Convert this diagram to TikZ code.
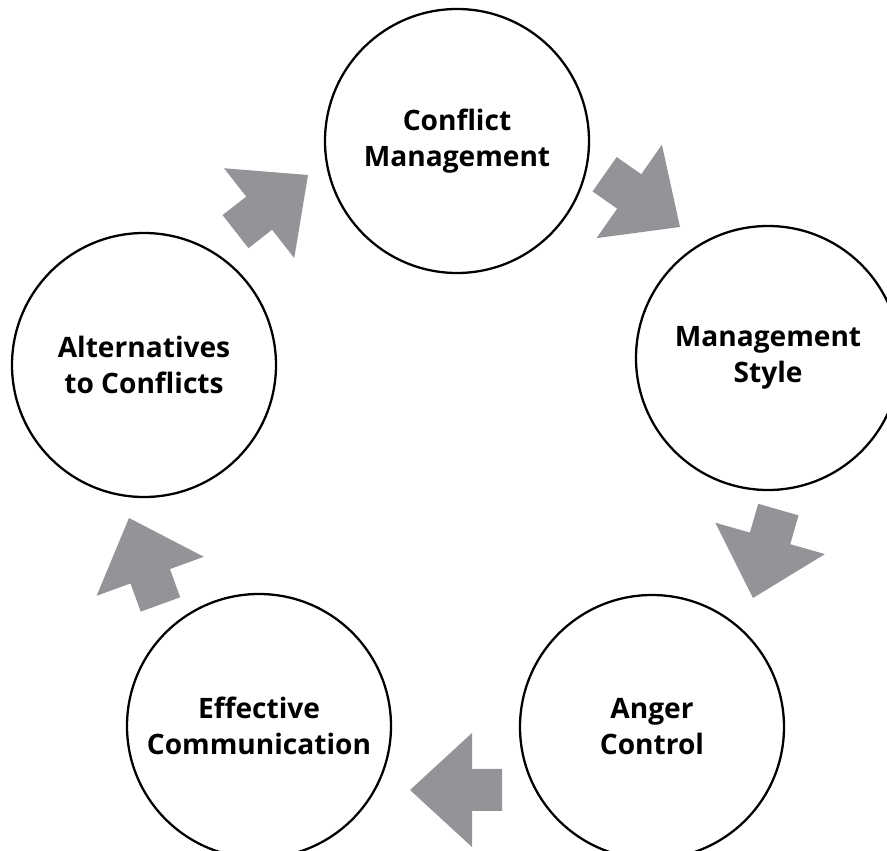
\documentclass[tikz,border=0pt]{standalone}
\usepackage{fontspec}
\setmainfont{Open Sans}
\definecolor{arrowgray}{RGB}{147,148,152}
\tikzset{
  stage/.style={circle, draw, line width=1.3pt, minimum size=5.28cm,
    align=center, font=\bfseries\fontsize{16}{20.5}\selectfont},
  flowarrow/.pic={
    \fill[arrowgray] (0,0) -- (-1.24,1.14) -- (-1.24,0.42) -- (-1.84,0.42)
      -- (-1.84,-0.42) -- (-1.24,-0.42) -- (-1.24,-1.14) -- cycle;
  }
}
\begin{document}
\begin{tikzpicture}
            \useasboundingbox (0,0) rectangle (17.74,17.02);
            \clip (0,0) rectangle (17.74,17.02);
            % the five stages
            \node[stage] (conflict) at (9.14,14.2) {Conflict\\Management};
            \node[stage] (style) at (15.36,9.86) {Management\\Style};
            \node[stage] (anger) at (13.04,2.48) {Anger\\Control};
            \node[stage] (communication) at (5.18,2.5) {Effective\\Communication};
            \node[stage] (alternatives) at (2.88,9.72) {Alternatives\\to Conflicts};
            % gray block arrows between the stages
            \pic[rotate=38] at (6.16,13.52) {flowarrow};
            \pic[rotate=-35] at (13.6,12.48) {flowarrow};
            \pic[rotate=-106] at (15.06,5.06) {flowarrow};
            \pic[rotate=180] at (8.2,1.22) {flowarrow};
            \pic[rotate=110] at (2.58,6.66) {flowarrow};
        \end{tikzpicture}
\end{document}
